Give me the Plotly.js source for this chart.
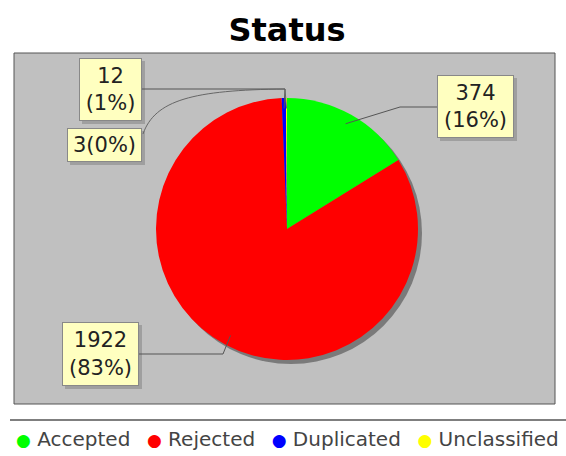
<!DOCTYPE html>
<html><head><meta charset="utf-8">
<script src="https://cdn.plot.ly/plotly-3.0.1.min.js"></script>
<style>html,body{margin:0;padding:0;background:#fff}</style>
</head><body><div id="chart" style="width:566px;height:456px"></div>
<script>
// ---- data ----
const categories = ['Accepted', 'Rejected', 'Duplicated', 'Unclassified'];
const values = [374, 1922, 12, 3];
const colors = ['#00FF00', '#FF0000', '#0000FF', '#FFFF00'];
const chartTitle = 'Status';

// ---- layout helpers (pixel -> paper) ----
const W = 566, H = 456;
const X = p => p / W, Y = p => 1 - p / H;
const cx = 287, cy = 229, R = 131;           // pie geometry in px
const total = values.reduce((a, b) => a + b, 0);
const pct = values.map(v => Math.round(v / total * 100));

// label box placement (px): box [x0,y0,x1,y1], link start and elbow
const labelLayout = [
  {box: [437, 75, 514, 138], oneLine: false, start: [437, 107], elbow: [400, 107]},
  {box: [62, 322, 139, 386], oneLine: false, start: [139, 354], elbow: [223, 354]},
  {box: [79, 58, 142, 121], oneLine: false, start: [142, 89], elbow: [285, 89]},
  {box: [67, 128, 142, 162], oneLine: true, start: [143, 134], elbow: [285, 89], curve: true}
];

// anchors on the slices, from the data (clockwise from 12 o'clock)
let cum = 0;
const anchors = values.map(v => {
  const mid = (cum + v / 2) / total; cum += v;
  const th = mid * 2 * Math.PI, k = 0.92;
  return [cx + k * R * Math.sin(th), cy - k * R * Math.cos(th)];
});

const shapes = [
  {type: 'rect', layer: 'below', xref: 'paper', yref: 'paper',
   x0: X(14), x1: X(555), y0: Y(404), y1: Y(53),
   fillcolor: '#C0C0C0', line: {color: '#555555', width: 1}},
  {type: 'circle', layer: 'below', xref: 'paper', yref: 'paper',
   x0: X(cx - R + 4), x1: X(cx + R + 4), y0: Y(cy + R + 4), y1: Y(cy - R + 4),
   fillcolor: '#7A7A7A', line: {width: 0}},
  {type: 'line', xref: 'paper', yref: 'paper', x0: X(10), x1: X(566), y0: Y(420), y1: Y(420),
   line: {color: '#555555', width: 1.5}}
];
const annotations = [];

categories.forEach((c, i) => {
  const L = labelLayout[i];
  const [x0, y0, x1, y1] = L.box;
  // box shadow
  shapes.push({type: 'rect', layer: 'above', xref: 'paper', yref: 'paper',
    x0: X(x0 + 3), x1: X(x1 + 3), y0: Y(y1 + 3), y1: Y(y0 + 3),
    fillcolor: 'rgba(120,120,120,0.45)', line: {width: 0}});
  // link
  const a = anchors[i];
  let path;
  if (L.curve) {
    const [sx, sy] = L.start, [ex, ey] = L.elbow;
    path = `M ${X(sx)} ${Y(sy)} C ${X(sx + 12)} ${Y(sy - 34)} ${X(sx + 50)} ${Y(ey + 1)} ${X(ex)} ${Y(ey)} L ${X(a[0])} ${Y(a[1])}`;
  } else {
    path = `M ${X(L.start[0])} ${Y(L.start[1])} L ${X(L.elbow[0])} ${Y(L.elbow[1])} L ${X(a[0])} ${Y(a[1])}`;
  }
  shapes.push({type: 'path', layer: 'above', xref: 'paper', yref: 'paper', path: path,
    line: {color: L.curve ? '#666666' : '#555555', width: 1}});
  annotations.push({
    xref: 'paper', yref: 'paper', x: X((x0 + x1) / 2), y: Y((y0 + y1) / 2),
    xanchor: 'center', yanchor: 'middle', showarrow: false,
    text: L.oneLine ? `${values[i]}(${pct[i]}%)` : `${values[i]}<br>(${pct[i]}%)`,
    width: x1 - x0 - 2, height: y1 - y0 - 2, borderpad: 0, borderwidth: 1,
    bgcolor: '#FFFFC0', bordercolor: '#888888',
    font: {family: 'DejaVu Sans', size: 21, color: '#222222'}
  });
});

// legend row
annotations.push({
  xref: 'paper', yref: 'paper', x: X(287), y: Y(439), xanchor: 'center', yanchor: 'middle',
  showarrow: false,
  text: categories.map((c, i) => `<span style="color:${colors[i]};font-size:17px">●</span> ${c}`)
                  .join('  <span style="font-size:12px"> </span>'),
  font: {family: 'DejaVu Sans', size: 20, color: '#444444'}
});

const data = [{
  type: 'pie', labels: categories, values: values, sort: false,
  direction: 'clockwise', rotation: 0, textinfo: 'none', hoverinfo: 'label+value+percent',
  marker: {colors: colors, line: {width: 0}}, showlegend: false,
  domain: {x: [X(cx - R), X(cx + R)], y: [Y(cy + R), Y(cy - R)]}
}];

const layout = {
  width: W, height: H, margin: {l: 0, r: 0, t: 0, b: 0},
  paper_bgcolor: '#FFFFFF', plot_bgcolor: 'rgba(0,0,0,0)',
  title: {text: '<b>' + chartTitle + '</b>', x: X(287), xanchor: 'center',
          y: Y(30), yanchor: 'middle', yref: 'container',
          font: {family: 'DejaVu Sans', size: 32, color: '#000000'}},
  shapes: shapes, annotations: annotations, showlegend: false
};
Plotly.newPlot('chart', data, layout, {displayModeBar: false, staticPlot: true});
</script></body></html>
